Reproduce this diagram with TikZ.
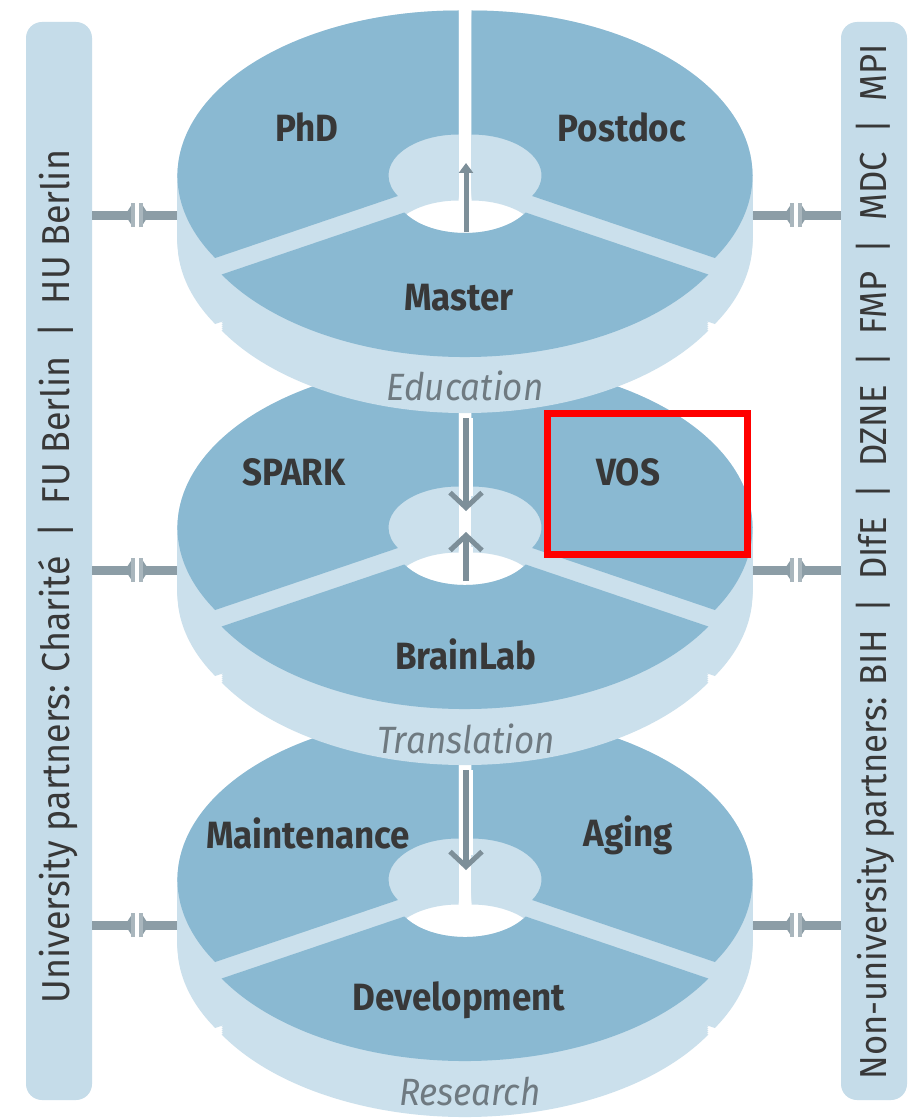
\documentclass[tikz,border=0pt]{standalone}
\usepackage{fontspec}
\usepackage{graphicx}
\setmainfont{Fira Sans}[FakeStretch=0.92]
\usetikzlibrary{arrows.meta,calc}
\definecolor{face}{HTML}{8AB9D2}
\definecolor{wall}{HTML}{CBE0EC}
\definecolor{barfill}{HTML}{C5DCE9}
\definecolor{conn}{HTML}{8C9DA6}
\definecolor{tick}{HTML}{A9B6BD}
\definecolor{labtxt}{HTML}{383838}
\definecolor{captxt}{HTML}{6F7A81}
\definecolor{arr}{HTML}{7D8F99}
\newcommand\secpath[4]{($(#1,#2)+(#3:281 and 165)$) arc[start angle=#3,end angle=#4,x radius=281,y radius=165] -- ($(#1,#2)+(#4:70 and 41)$) arc[start angle=#4,end angle=#3,x radius=70,y radius=41] -- cycle}
% #1 cx, #2 cy, #3 start angle, #4 end angle, #5 depth
\newcommand\sect[5]{%
  \foreach \t in {0,2,...,#5}{\fill[wall] \secpath{#1}{#2+\t}{#3}{#4};}
  \fill[face] \secpath{#1}{#2}{#3}{#4};}
\newcommand\disc[2]{%
  \sect{#1-6.5}{#2-2.5}{150}{270}{66}
  \sect{#1+6.5}{#2-2.5}{270}{390}{66}
  \sect{#1}{#2+14}{30}{150}{56}}
\begin{document}
\begin{tikzpicture}[x=1pt,y=1pt,yscale=-1,
  sidebar/.style={draw=none,fill=barfill,rounded corners=16pt,minimum width=66pt,minimum height=1078pt,inner sep=0pt},
  sidetext/.style={rotate=90,text=labtxt,inner sep=0pt,font=\fontsize{30}{30}\selectfont},
  lab/.style={text=labtxt,inner sep=0pt,font=\bfseries\fontsize{38}{38}\selectfont},
  ringlab/.style={text=captxt,inner sep=0pt,font=\itshape\fontsize{38}{38}\selectfont},
  cn/.style={draw=conn,line width=9pt,-{Triangle[reversed,length=6pt,width=18pt] Bar[width=24pt,line width=4pt,color=tick]}},
  vborder/.style={draw=white,line width=13pt},
  vline/.style={draw=arr,line width=6pt},
  chev/.style={vline,-{Straight Barb[length=15pt,width=32pt,line width=5pt]}},
  tri/.style={vline,line width=5pt,-{Triangle[length=10pt,width=14pt]}}]
\fill[white] (0,0) rectangle (919,1118);
\useasboundingbox (0,0) rectangle (919,1118);
% side bars
\node[sidebar] (lbar) at (59,561) {};
\node[sidebar] (rbar) at (874,561) {};
\node[sidetext] (ltext) at (58,576.5) {\resizebox{853pt}{!}{University partners: Charité ~|~ FU Berlin ~|~ HU Berlin}};
\node[sidetext] (rtext) at (875,562) {\resizebox{1035pt}{!}{Non-university partners: BIH ~|~ DIfE ~|~ DZNE ~|~ FMP ~|~ MDC ~|~ MPI}};
% connector coordinates
\foreach \i/\y in {1/215,2/570,3/925}{
  \coordinate (dL\i) at (200,\y);
  \coordinate (tLa\i) at (135,\y);
  \coordinate (tLb\i) at (139,\y);
  \coordinate (dR\i) at (730,\y);
  \coordinate (tRa\i) at (794,\y);
  \coordinate (tRb\i) at (798,\y);
  \draw[cn] (lbar.east |- tLa\i) -- (tLa\i);
  \draw[cn] (dL\i) -- (tLb\i);
  \draw[cn] (dR\i) -- (tRa\i);
  \draw[cn] (rbar.west |- tRb\i) -- (tRb\i);
}
% discs (bottom first)
\disc{465}{882}
\disc{465}{530}
\disc{465}{178}
% labels
\node[lab] (phd) at (307,127) {PhD};
\node[lab] (postdoc) at (622,127) {Postdoc};
\node[lab] (master) at (459,298) {Master};
\node[ringlab] (edu) at (465,386) {Education};
\node[lab] (spark) at (294,472) {SPARK};
\node[lab] (vos) at (628,472) {VOS};
\node[lab] (brainlab) at (466,654) {BrainLab};
\node[ringlab] (transl) at (466,739) {Translation};
\node[lab] (maint) at (308,833) {Maintenance};
\node[lab] (aging) at (628,835) {Aging};
\node[lab] (devel) at (459,1000) {Development};
\node[ringlab] (research) at (470,1092) {Research};
% vertical arrows
\coordinate (a1s) at (466,232); \coordinate (a1e) at (466,163);
\coordinate (a2s) at (466,418); \coordinate (a2e) at (466,511); \coordinate (a2w) at (466,496);
\coordinate (a3s) at (466,581); \coordinate (a3e) at (466,532); \coordinate (a3w) at (466,547);
\coordinate (a4s) at (466,770); \coordinate (a4e) at (466,870); \coordinate (a4w) at (466,855);
\draw[tri] (a1s) -- (a1e);
\draw[vborder] (a2s) -- (a2w);
\draw[chev] (a2s) -- (a2e);
\draw[vborder] (a3s) -- (a3w);
\draw[chev] (a3s) -- (a3e);
\draw[vborder] (a4s) -- (a4w);
\draw[chev] (a4s) -- (a4e);
% highlight box
\node[draw=red,line width=7pt,minimum width=200pt,minimum height=141pt,inner sep=0pt] (hl) at (647,483.5) {};
\end{tikzpicture}
\end{document}
